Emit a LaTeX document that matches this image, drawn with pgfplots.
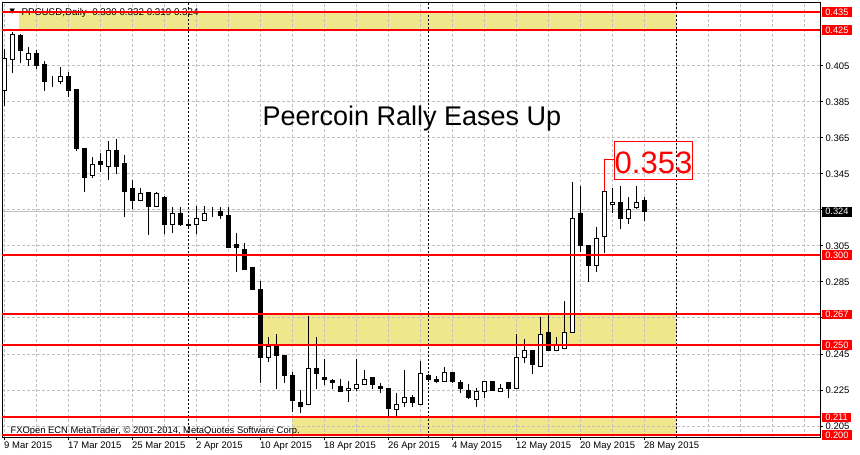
\documentclass[border=0pt]{standalone}
\usepackage{pgfplots}
\pgfplotsset{compat=1.18}
\usepackage{pgfplotstable}
\usepackage{fontspec}
\setmainfont{Liberation Sans}
\newfontfamily\dejavu{DejaVu Sans}
\definecolor{khaki}{RGB}{240,230,140}
\definecolor{gridgray}{RGB}{192,192,192}
\definecolor{mtred}{RGB}{255,0,0}

\pgfplotstableread{
d o h l c
0 0.3913 0.4143 0.3829 0.4093
1 0.4087 0.4239 0.4013 0.4226
2 0.4217 0.4225 0.4065 0.4135
3 0.4087 0.4154 0.4052 0.4117
4 0.4117 0.4139 0.4033 0.4052
5 0.4056 0.4078 0.3913 0.3963
6 0.3956 0.3994 0.3935 0.3956
7 0.3963 0.4043 0.3950 0.3993
8 0.3989 0.4017 0.3879 0.3913
9 0.3917 0.3917 0.3580 0.3589
10 0.3594 0.3594 0.3350 0.3429
11 0.3441 0.3546 0.3429 0.3504
12 0.3517 0.3568 0.3461 0.3502
13 0.3491 0.3633 0.3418 0.3582
14 0.3582 0.3644 0.3450 0.3491
15 0.3506 0.3556 0.3213 0.3352
16 0.3367 0.3417 0.3257 0.3302
17 0.3304 0.3371 0.3300 0.3343
18 0.3346 0.3350 0.3111 0.3268
19 0.3272 0.3350 0.3265 0.3343
20 0.3320 0.3325 0.3115 0.3171
21 0.3171 0.3268 0.3121 0.3232
22 0.3232 0.3265 0.3160 0.3171
23 0.3172 0.3198 0.3146 0.3165
24 0.3171 0.3274 0.3118 0.3204
25 0.3193 0.3274 0.3190 0.3232
26 0.3243 0.3265 0.3213 0.3243
27 0.3243 0.3268 0.3202 0.3218
28 0.3222 0.3268 0.3041 0.3041
29 0.3056 0.3124 0.2907 0.3041
30 0.3032 0.3068 0.2917 0.2917
31 0.2933 0.2933 0.2806 0.2806
32 0.2811 0.2857 0.2291 0.2429
33 0.2432 0.2544 0.2407 0.2491
34 0.2491 0.2563 0.2256 0.2441
35 0.2444 0.2444 0.2291 0.2328
36 0.2333 0.2352 0.2129 0.2194
37 0.2183 0.2250 0.2121 0.2156
38 0.2171 0.2660 0.2165 0.2371
39 0.2372 0.2544 0.2256 0.2339
40 0.2322 0.2422 0.2276 0.2306
41 0.2302 0.2311 0.2254 0.2293
42 0.2272 0.2311 0.2241 0.2241
43 0.2248 0.2300 0.2182 0.2261
44 0.2257 0.2422 0.2246 0.2282
45 0.2282 0.2361 0.2282 0.2309
46 0.2321 0.2321 0.2256 0.2282
47 0.2272 0.2287 0.2232 0.2259
48 0.2259 0.2259 0.2102 0.2148
49 0.2143 0.2232 0.2107 0.2171
50 0.2182 0.2361 0.2157 0.2209
51 0.2209 0.2222 0.2157 0.2182
52 0.2171 0.2411 0.2165 0.2343
53 0.2332 0.2340 0.2294 0.2309
54 0.2309 0.2326 0.2287 0.2298
55 0.2300 0.2380 0.2300 0.2349
56 0.2349 0.2352 0.2290 0.2297
57 0.2293 0.2304 0.2232 0.2259
58 0.2248 0.2282 0.2199 0.2207
59 0.2198 0.2259 0.2157 0.2243
60 0.2243 0.2300 0.2207 0.2298
61 0.2298 0.2300 0.2245 0.2248
62 0.2243 0.2282 0.2243 0.2259
63 0.2293 0.2295 0.2207 0.2259
64 0.2259 0.2561 0.2259 0.2432
65 0.2432 0.2533 0.2398 0.2471
66 0.2471 0.2471 0.2341 0.2391
67 0.2382 0.2657 0.2382 0.2559
68 0.2571 0.2672 0.2468 0.2468
69 0.2471 0.2543 0.2471 0.2504
70 0.2482 0.2744 0.2482 0.2571
71 0.2571 0.3406 0.2571 0.3204
72 0.3232 0.3383 0.3018 0.3052
73 0.3054 0.3054 0.2852 0.2941
74 0.2941 0.3154 0.2907 0.3093
75 0.3104 0.3530 0.3013 0.3354
76 0.3282 0.3371 0.3232 0.3293
77 0.3293 0.3383 0.3143 0.3204
78 0.3204 0.3321 0.3171 0.3254
79 0.3265 0.3383 0.3254 0.3293
80 0.3300 0.3320 0.3190 0.3240
}\candles

\pgfplotsset{
  mtbase/.style={
    at={(2bp,18bp)}, anchor=south west,
    scale only axis, width=818bp, height=434bp,
    xmin=-0.25, xmax=102, ymin=0.19889, ymax=0.44,
  },
}
\tikzset{
  plabel/.style={anchor=west, fill=mtred, text=white,
    font=\fontsize{9.3bp}{10bp}\selectfont, inner xsep=3.6bp, inner ysep=0pt,
    minimum height=9.5bp, xshift=1.5bp},
}

\begin{document}
\begin{tikzpicture}
\path[use as bounding box] (0,0) rectangle (860bp,455bp);
% yellow zones
\begin{axis}[mtbase, hide axis]
\addplot[fill=khaki, draw=none] coordinates {(1.875,0.425) (84,0.425) (84,0.435) (1.875,0.435) (1.875,0.425)};
\addplot[fill=khaki, draw=none] coordinates {(32,0.250) (84,0.250) (84,0.267) (32,0.267) (32,0.250)};
\addplot[fill=khaki, draw=none] coordinates {(36,0.200) (84,0.200) (84,0.2098) (36,0.2098) (36,0.200)};
\end{axis}
% grid, bid line, separators, wicks
\begin{axis}[mtbase, axis line style={draw=none}, tick style={draw=none},
  xtick={0,4,...,100},
  ytick={0.205,0.225,0.245,0.265,0.285,0.305,0.325,0.345,0.365,0.385,0.405,0.425},
  xticklabels={}, yticklabels={},
  grid=major, grid style={gridgray, line width=1bp, dash pattern=on 3bp off 2bp}]
\addplot[gridgray, line width=1bp] coordinates {(-0.25,0.324) (102,0.324)};
\addplot[black, line width=1bp, dash pattern=on 2bp off 2bp] coordinates {(23,0.19889) (23,0.44)};
\addplot[black, line width=1bp, dash pattern=on 2bp off 2bp] coordinates {(53,0.19889) (53,0.44)};
\addplot[black, line width=1bp, dash pattern=on 2bp off 2bp] coordinates {(84,0.19889) (84,0.44)};
\addplot[draw=none, mark=none,
  error bars/.cd, y dir=plus, y explicit, error mark=none,
  error bar style={draw=black, line width=1bp, solid}]
  table[x=d, y=l, y error plus expr=\thisrow{h}-\thisrow{l}] {\candles};
\end{axis}
% candle bodies
\begin{axis}[mtbase, hide axis, ybar stacked, bar width=4bp]
\addplot[draw=none, fill=none] table[x=d, y expr={min(\thisrow{o},\thisrow{c})}] {\candles};
\addplot[draw=black, fill=white, line width=1bp] table[x=d, y expr={max(\thisrow{c}-\thisrow{o},0)}] {\candles};
\addplot[draw=black, fill=black, line width=1bp] table[x=d, y expr={max(\thisrow{o}-\thisrow{c},0)}] {\candles};
\end{axis}
% frame, ticks, levels, texts
\begin{axis}[mtbase, clip=false, axis line style={black, line width=1bp},
  xtick={0,8,...,80},
  xticklabels={9 Mar 2015,17 Mar 2015,25 Mar 2015,2 Apr 2015,10 Apr 2015,18 Apr 2015,26 Apr 2015,4 May 2015,12 May 2015,20 May 2015,28 May 2015},
  xtick pos=bottom,
  ytick={0.205,0.225,0.245,0.265,0.285,0.305,0.325,0.345,0.365,0.385,0.405},
  yticklabels={0.205,0.225,0.245,,0.285,0.305,,0.345,0.365,0.385,0.405},
  ytick pos=right, yticklabel pos=right,
  tick align=outside, major tick length=3bp, tick style={black, line width=1bp},
  tick label style={font=\fontsize{9.5bp}{10bp}\selectfont},
  xticklabel style={anchor=north west, inner xsep=0pt, inner ysep=1.5bp},
  yticklabel style={anchor=west, inner xsep=2.5bp}]
\node[anchor=base west, font=\dejavu\fontsize{7bp}{8bp}\selectfont] at (axis cs:0.25,0.4344) {▼};
\node[anchor=base west, font=\fontsize{9.8bp}{11bp}\selectfont] at (axis cs:1.75,0.4333) {PPCUSD,Daily\ \ 0.330 0.332 0.319 0.324};
\node[anchor=base west, font=\fontsize{9.4bp}{11bp}\selectfont] at (axis cs:0.375,0.2009) {FXOpen ECN MetaTrader, © 2001-2014, MetaQuotes Software Corp.};
\addplot[mtred, line width=2bp] coordinates {(-0.25,0.435) (102,0.435)};
\addplot[mtred, line width=2bp] coordinates {(-0.25,0.425) (102,0.425)};
\addplot[mtred, line width=2bp] coordinates {(-0.25,0.300) (102,0.300)};
\addplot[mtred, line width=2bp] coordinates {(-0.25,0.267) (102,0.267)};
\addplot[mtred, line width=2bp] coordinates {(-0.25,0.250) (102,0.250)};
\addplot[mtred, line width=2bp] coordinates {(-0.25,0.2098) (102,0.2098)};
\addplot[mtred, line width=2bp] coordinates {(-0.25,0.200) (102,0.200)};
% annotation of the high
\addplot[mtred, line width=1bp] coordinates {(76.29,0.353) (75,0.353) (75,0.3354)};
\addplot[mtred, line width=1bp] coordinates {(76.29,0.3421) (86.09,0.3421) (86.09,0.3633) (76.29,0.3633) (76.29,0.3421)};
\node[anchor=base, text=mtred, font=\fontsize{31bp}{34bp}\selectfont] at (axis cs:81.19,0.3454) {0.353};
\node[anchor=base, font=\fontsize{27bp}{30bp}\selectfont] at (axis cs:51,0.3717) {Peercoin Rally Eases Up};
% price labels
\node[plabel] at (axis cs:102,0.435) {0.435};
\node[plabel] at (axis cs:102,0.425) {0.425};
\node[plabel, fill=black] at (axis cs:102,0.324) {0.324};
\node[plabel] at (axis cs:102,0.300) {0.300};
\node[plabel] at (axis cs:102,0.267) {0.267};
\node[plabel] at (axis cs:102,0.250) {0.250};
\node[plabel] at (axis cs:102,0.2098) {0.211};
\node[plabel] at (axis cs:102,0.200) {0.200};
\end{axis}
\end{tikzpicture}
\end{document}
